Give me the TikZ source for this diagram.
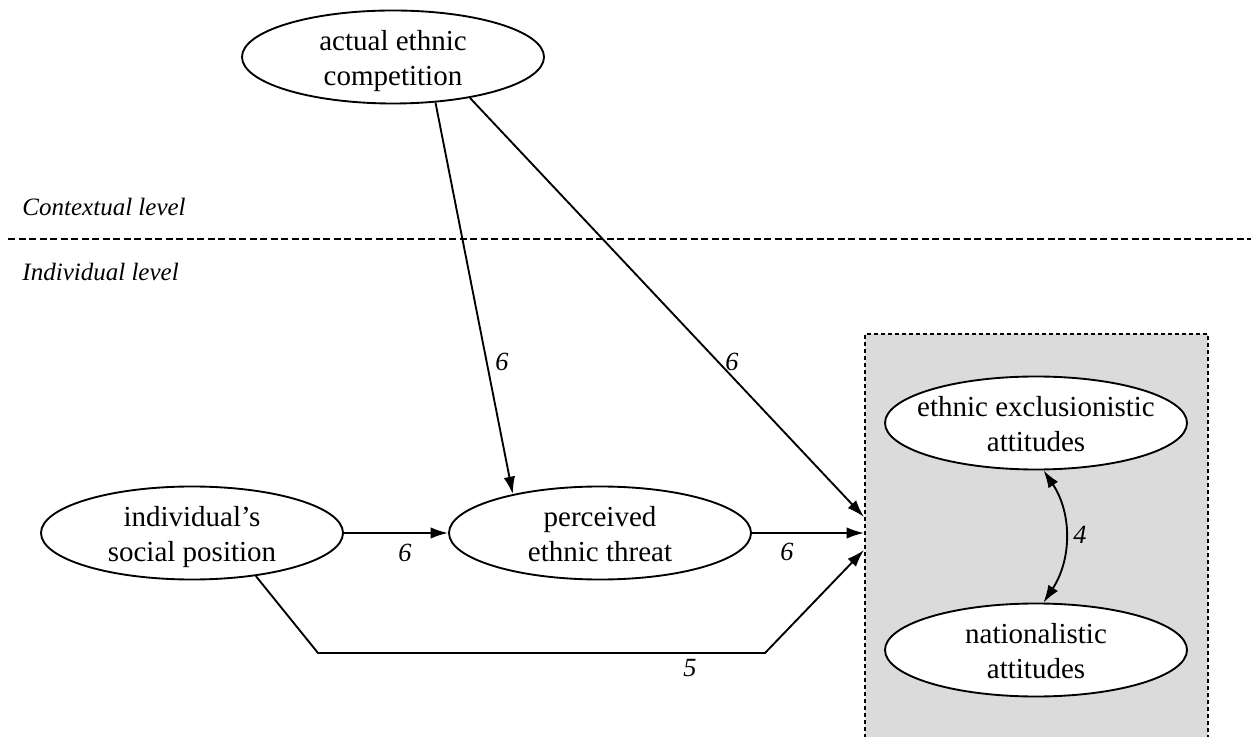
\documentclass[tikz,border=0pt]{standalone}
\usepackage{fontspec}
\setmainfont{Liberation Serif}
\usetikzlibrary{arrows.meta,shapes.geometric}
\definecolor{boxgray}{gray}{0.86}
% two centred lines, inked a little below the node centre
\newcommand{\lvtext}[1]{\raisebox{-1.5pt}[\height][\depth]{\begin{tabular}{@{}c@{}}#1\end{tabular}}}
\begin{document}
\begin{tikzpicture}[x=0.4pt,y=-0.4pt,
  latent/.style={ellipse, draw, line width=0.75pt, fill=white,
    minimum width=120.8pt, minimum height=37.2pt,
    inner xsep=-10pt, inner ysep=-3pt,
    font=\fontsize{11.6}{14}\selectfont},
  effect/.style={draw, line width=0.75pt, -{Latex[length=7pt,width=4.6pt]}},
  corr/.style={draw, line width=0.75pt,
    {Latex[length=7pt,width=4.6pt]}-{Latex[length=7pt,width=4.6pt]}},
  coef/.style={font=\fontsize{10.5}{12}\selectfont\itshape},
  levellabel/.style={anchor=west, inner sep=0pt,
    font=\fontsize{10}{12}\selectfont\itshape}]

\useasboundingbox (0,0) rectangle (1251,737);
\fill[white] (0,0) rectangle (1251,737);

% dependent attitudes, grouped in a shaded box
\node[draw, fill=boxgray, line width=0.6pt, dash pattern=on 1.6pt off 1.2pt,
  minimum width=137.2pt, minimum height=164.8pt, inner sep=0pt]
  (grp) at (1036.5,540) {};

% contextual / individual split
\node[levellabel] (ctx) at (22,207) {Contextual level};
\node[levellabel] (indl) at (22,272) {Individual level};
\draw[line width=0.5pt, dash pattern=on 2.8pt off 1.4pt] (8,239) -- (1251,239);

% latent variables
\node[latent] (ac)  at (393,57)   {\lvtext{actual ethnic\\competition}};
\node[latent] (ind) at (192,533)  {\lvtext{individual’s\\social position}};
\node[latent] (pt)  at (600,533)  {\lvtext{perceived\\ethnic threat}};
\node[latent] (ee)  at (1036,423) {\lvtext{ethnic exclusionistic\\attitudes}};
\node[latent] (na)  at (1036,650) {\lvtext{nationalistic\\attitudes}};

% entry points on the box
\coordinate (in1) at (864,517);
\coordinate (in2) at (864,533);
\coordinate (in3) at (864,550);
\coordinate (b1) at (318,653);
\coordinate (b2) at (765,653);

% paths
\draw[effect] (ac.-47) -- (pt.156);
\draw[effect] (ac.-28) -- (in1);
\draw[effect] (ind.east) -- (pt.west);
\draw[effect] (pt.east) -- (in2);
\draw[effect] (ind.-34) -- (b1) -- (b2) -- (in3);
\draw[corr] (ee.-81) .. controls (1072,513) and (1072,559) .. (na.81);

% coefficients
\node[coef] (c1) at (502,362) {6};
\node[coef] (c2) at (732,362) {6};
\node[coef] (c3) at (405,553) {6};
\node[coef] (c4) at (787,552) {6};
\node[coef] (c5) at (690,668) {5};
\node[coef] (c6) at (1080,535) {4};
\end{tikzpicture}
\end{document}
